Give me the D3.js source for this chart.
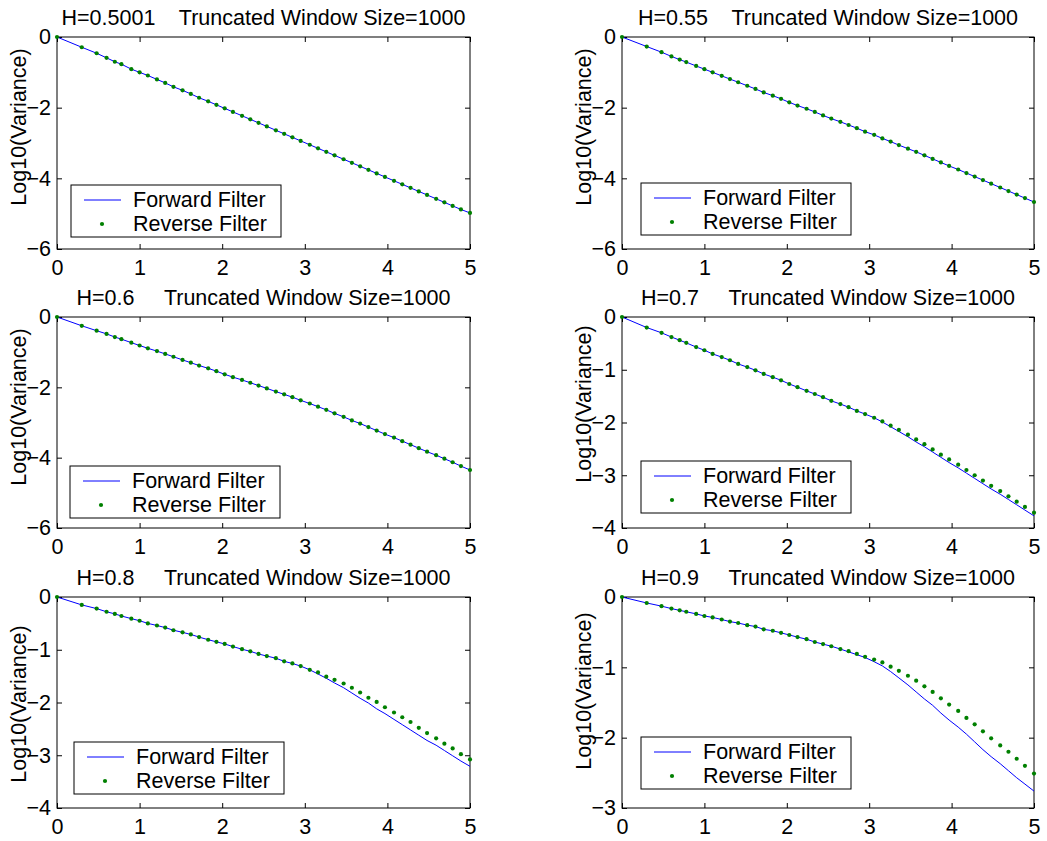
<!DOCTYPE html>
<html>
<head>
<meta charset="utf-8">
<script src="https://cdn.jsdelivr.net/npm/d3@7"></script>
<style>
  html, body { margin: 0; padding: 0; background: #fff; }
  svg { display: block; }
  text { font-family: "Liberation Sans", Arial, Helvetica, sans-serif; fill: #000; }
</style>
</head>
<body>
<svg id="chart" width="1047" height="841"></svg>
<script>
// ---- data ----
const xVals = [0,0.30,0.48,0.60,0.70,0.78,0.90,1.00,1.10,1.21,1.31,1.41,1.52,1.62,1.72,1.83,1.93,2.03,2.13,2.24,2.34,2.44,2.54,2.65,2.75,2.85,2.95,3.06,3.16,3.26,3.36,3.47,3.57,3.67,3.77,3.87,3.97,4.08,4.18,4.28,4.38,4.48,4.59,4.69,4.79,4.89,5.00];

const revH5001 = [0,-0.29,-0.46,-0.59,-0.70,-0.77,-0.91,-1.00,-1.09,-1.20,-1.30,-1.41,-1.51,-1.61,-1.72,-1.82,-1.92,-2.02,-2.12,-2.23,-2.33,-2.43,-2.53,-2.64,-2.74,-2.84,-2.94,-3.05,-3.15,-3.25,-3.35,-3.46,-3.56,-3.66,-3.76,-3.86,-3.96,-4.07,-4.17,-4.27,-4.37,-4.47,-4.58,-4.68,-4.78,-4.88,-4.98];
const fwdH5001 = revH5001;

const revH55 = [0,-0.27,-0.43,-0.55,-0.64,-0.71,-0.82,-0.91,-1.00,-1.10,-1.19,-1.28,-1.38,-1.47,-1.57,-1.66,-1.75,-1.85,-1.94,-2.03,-2.12,-2.22,-2.31,-2.40,-2.49,-2.58,-2.68,-2.77,-2.87,-2.96,-3.06,-3.16,-3.25,-3.35,-3.45,-3.55,-3.65,-3.75,-3.85,-3.95,-4.05,-4.15,-4.26,-4.36,-4.46,-4.56,-4.67];
const fwdH55 = revH55;

const revH6 = [0,-0.25,-0.39,-0.48,-0.57,-0.63,-0.73,-0.81,-0.89,-0.97,-1.05,-1.13,-1.22,-1.30,-1.38,-1.46,-1.54,-1.63,-1.71,-1.79,-1.87,-1.95,-2.03,-2.12,-2.20,-2.28,-2.37,-2.46,-2.55,-2.64,-2.74,-2.84,-2.94,-3.03,-3.13,-3.23,-3.33,-3.43,-3.53,-3.63,-3.73,-3.83,-3.93,-4.03,-4.13,-4.24,-4.35];
const fwdH6 = revH6;

const revH7 = [0,-0.20,-0.30,-0.38,-0.44,-0.49,-0.57,-0.63,-0.70,-0.76,-0.82,-0.89,-0.95,-1.01,-1.08,-1.14,-1.20,-1.27,-1.33,-1.40,-1.46,-1.52,-1.59,-1.65,-1.71,-1.78,-1.84,-1.91,-1.98,-2.06,-2.14,-2.23,-2.32,-2.41,-2.51,-2.61,-2.70,-2.80,-2.90,-3.00,-3.10,-3.20,-3.30,-3.40,-3.50,-3.60,-3.71];
const fwdH7 = [0,-0.20,-0.30,-0.38,-0.44,-0.49,-0.57,-0.63,-0.70,-0.76,-0.82,-0.89,-0.95,-1.01,-1.08,-1.14,-1.20,-1.27,-1.33,-1.40,-1.46,-1.52,-1.59,-1.65,-1.71,-1.78,-1.84,-1.91,-1.99,-2.08,-2.17,-2.27,-2.37,-2.46,-2.56,-2.66,-2.76,-2.86,-2.96,-3.06,-3.16,-3.26,-3.36,-3.46,-3.56,-3.66,-3.77];

const revH8 = [0,-0.15,-0.22,-0.28,-0.32,-0.36,-0.41,-0.45,-0.50,-0.54,-0.58,-0.63,-0.67,-0.71,-0.76,-0.81,-0.85,-0.89,-0.94,-0.99,-1.03,-1.08,-1.12,-1.16,-1.22,-1.26,-1.31,-1.38,-1.43,-1.51,-1.57,-1.64,-1.72,-1.81,-1.91,-1.99,-2.09,-2.19,-2.28,-2.37,-2.48,-2.58,-2.68,-2.78,-2.87,-2.98,-3.08];
const fwdH8 = [0,-0.15,-0.22,-0.28,-0.32,-0.36,-0.41,-0.45,-0.50,-0.54,-0.58,-0.63,-0.67,-0.71,-0.76,-0.81,-0.85,-0.89,-0.94,-0.99,-1.03,-1.08,-1.12,-1.16,-1.22,-1.26,-1.31,-1.38,-1.46,-1.54,-1.63,-1.72,-1.82,-1.92,-2.01,-2.12,-2.21,-2.32,-2.42,-2.52,-2.62,-2.72,-2.81,-2.91,-3.01,-3.11,-3.21];

const revH9 = [0,-0.085,-0.13,-0.165,-0.19,-0.21,-0.24,-0.27,-0.29,-0.32,-0.35,-0.37,-0.40,-0.42,-0.46,-0.48,-0.51,-0.54,-0.57,-0.60,-0.64,-0.67,-0.70,-0.74,-0.77,-0.81,-0.85,-0.89,-0.93,-0.99,-1.05,-1.12,-1.19,-1.27,-1.35,-1.44,-1.53,-1.62,-1.72,-1.81,-1.91,-2.01,-2.11,-2.20,-2.30,-2.40,-2.51];
const fwdH9 = [0,-0.085,-0.13,-0.165,-0.19,-0.21,-0.24,-0.27,-0.29,-0.32,-0.35,-0.37,-0.40,-0.42,-0.46,-0.48,-0.51,-0.54,-0.57,-0.60,-0.64,-0.67,-0.70,-0.74,-0.78,-0.82,-0.86,-0.92,-0.98,-1.06,-1.15,-1.25,-1.35,-1.45,-1.54,-1.65,-1.75,-1.85,-1.95,-2.06,-2.17,-2.27,-2.37,-2.47,-2.57,-2.66,-2.76];

const xTicks = [0,1,2,3,4,5];
const yTicks6 = [0,-2,-4,-6];
const yTicks4 = [0,-1,-2,-3,-4];
const yTicks3 = [0,-1,-2,-3];

const titles = [
  "H=0.5001    Truncated Window Size=1000",
  "H=0.55    Truncated Window Size=1000",
  "H=0.6     Truncated Window Size=1000",
  "H=0.7     Truncated Window Size=1000",
  "H=0.8     Truncated Window Size=1000",
  "H=0.9     Truncated Window Size=1000"
];
const seriesNames = ["Forward Filter", "Reverse Filter"];
const yLabel = "Log10(Variance)";

// ---- layout ----
const FS = 21.5;
const cols = [[57, 470], [622, 1034]];
const rows = [[37, 249], [317, 528], [597, 808]];
const panels = [
  {t: titles[0], fwd: fwdH5001, rev: revH5001, yt: yTicks6, c: 0, r: 0, lab: 127, lg: [71, 185]},
  {t: titles[1], fwd: fwdH55,   rev: revH55,   yt: yTicks6, c: 1, r: 0, lab: 127, lg: [641, 183]},
  {t: titles[2], fwd: fwdH6,    rev: revH6,    yt: yTicks6, c: 0, r: 1, lab: 407, lg: [70, 466]},
  {t: titles[3], fwd: fwdH7,    rev: revH7,    yt: yTicks4, c: 1, r: 1, lab: 404, lg: [641, 461]},
  {t: titles[4], fwd: fwdH8,    rev: revH8,    yt: yTicks4, c: 0, r: 2, lab: 704, lg: [74, 742]},
  {t: titles[5], fwd: fwdH9,    rev: revH9,    yt: yTicks3, c: 1, r: 2, lab: 691, lg: [641, 737]}
];

const svg = d3.select("#chart");
svg.append("rect").attr("width", 1047).attr("height", 841).attr("fill", "#fff");

panels.forEach(p => {
  const [x0, x1] = cols[p.c];
  const [y0, y1] = rows[p.r];
  const x = d3.scaleLinear().domain([0, 5]).range([x0, x1]);
  const y = d3.scaleLinear().domain([d3.min(p.yt), 0]).range([y1, y0]);
  const g = svg.append("g");

  // axes with inward ticks
  const axB = g.append("g").attr("transform", `translate(0,${y1})`)
    .call(d3.axisBottom(x).tickValues(xTicks).tickSize(-5).tickPadding(11).tickFormat(d3.format("d")));
  const axT = g.append("g").attr("transform", `translate(0,${y0})`)
    .call(d3.axisTop(x).tickValues(xTicks).tickSize(-5).tickFormat(""));
  const axL = g.append("g").attr("transform", `translate(${x0},0)`)
    .call(d3.axisLeft(y).tickValues(p.yt).tickSize(-5).tickPadding(6).tickFormat(d3.format("d")));
  const axR = g.append("g").attr("transform", `translate(${x1},0)`)
    .call(d3.axisRight(y).tickValues(p.yt).tickSize(-5).tickFormat(""));
  [axB, axT, axL, axR].forEach(a => {
    a.select(".domain").remove();
    a.selectAll("line").attr("stroke", "#000").attr("stroke-width", 1);
    a.selectAll("text").style("font-size", FS + "px")
      .style("font-family", '"Liberation Sans", Arial, Helvetica, sans-serif').attr("fill", "#000");
  });

  // box
  g.append("rect").attr("x", x0).attr("y", y0).attr("width", x1 - x0).attr("height", y1 - y0)
    .attr("fill", "none").attr("stroke", "#000").attr("stroke-width", 1);

  // forward line
  const line = d3.line().x((d, i) => x(xVals[i])).y(d => y(d));
  g.append("path").datum(p.fwd).attr("d", line)
    .attr("fill", "none").attr("stroke", "#0000ff").attr("stroke-width", 1);

  // reverse dots
  g.selectAll("circle.rev").data(p.rev).join("circle").attr("class", "rev")
    .attr("cx", (d, i) => x(xVals[i])).attr("cy", d => y(d)).attr("r", 2.1)
    .attr("fill", "#008000");

  // title
  g.append("text").attr("x", (x0 + x1) / 2).attr("y", y0 - 12)
    .attr("text-anchor", "middle").style("font-size", FS + "px")
    .style("white-space", "pre").attr("xml:space", "preserve").text(p.t);

  // y label
  const lx = x0 - 31;
  g.append("text").attr("transform", `translate(${lx},${p.lab}) rotate(-90)`)
    .attr("text-anchor", "middle").style("font-size", FS + "px").text(yLabel);

  // legend
  const [lgx, lgy] = p.lg;
  const lgG = g.append("g").attr("transform", `translate(${lgx},${lgy})`);
  lgG.append("rect").attr("width", 210).attr("height", 52)
    .attr("fill", "#fff").attr("stroke", "#000").attr("stroke-width", 1);
  lgG.append("line").attr("x1", 13).attr("x2", 50).attr("y1", 15).attr("y2", 15)
    .attr("stroke", "#0000ff").attr("stroke-width", 1);
  lgG.append("circle").attr("cx", 31).attr("cy", 39).attr("r", 2.1).attr("fill", "#008000");
  lgG.append("text").attr("x", 62).attr("y", 22).style("font-size", FS + "px").text(seriesNames[0]);
  lgG.append("text").attr("x", 62).attr("y", 45.5).style("font-size", FS + "px").text(seriesNames[1]);
});
</script>
</body>
</html>
